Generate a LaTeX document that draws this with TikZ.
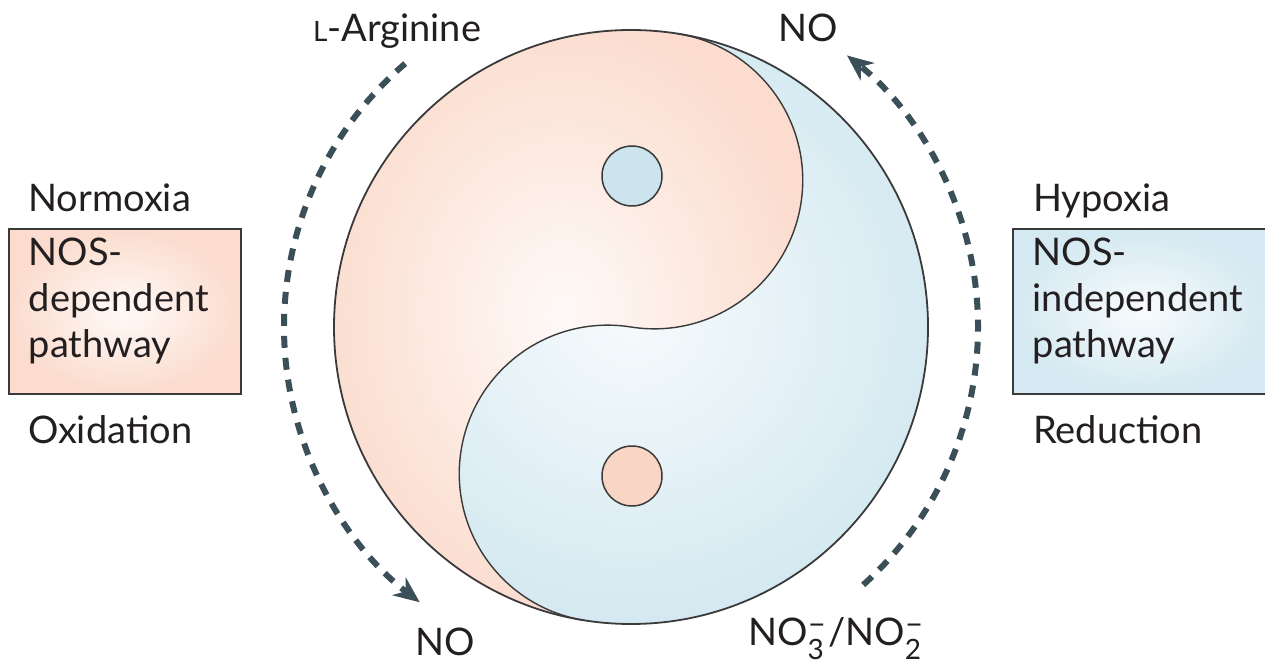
\documentclass[tikz,border=0pt]{standalone}
\usepackage{fontspec}
\setmainfont{Lato}
\usepackage{tikz}
\usetikzlibrary{arrows.meta}
\definecolor{peachx}{HTML}{FBDCCE}
\definecolor{bluex}{HTML}{D4E9F1}
\definecolor{peachdot}{HTML}{F8D5C5}
\definecolor{bluedot}{HTML}{CBE4ED}
\definecolor{slatex}{HTML}{3B4F58}
\definecolor{inkx}{HTML}{231F20}
\definecolor{rimx}{HTML}{3A3A3A}
\newcommand{\chg}[1]{\rlap{\raisebox{-14pt}{\fontsize{28}{28}\selectfont#1}}\raisebox{11pt}{\fontsize{32}{32}\selectfont–}\hspace{2pt}}
\tikzset{
  dasharr/.style={-{Stealth[length=26pt,width=22pt,inset=8pt]},line width=6pt,slatex,dash pattern=on 12pt off 10pt},
  lbl/.style={font=\fontsize{38}{47}\selectfont,text=inkx,inner sep=0pt},
  pathbox/.style={draw=rimx,line width=1.6pt,anchor=north west,minimum height=165pt,inner xsep=20pt,inner ysep=0pt,align=left,text width=192pt,text depth=120pt,font=\fontsize{38}{46}\selectfont,text=inkx,shade}
}

\begin{document}
\begin{tikzpicture}[x=1pt,y=1pt]
\useasboundingbox (0,0) rectangle (1265,667);
\coordinate (C) at (631,340);
% yin and yang
\begin{scope}[rotate around={-9:(C)}]
\shade[inner color=bluex!20,outer color=bluex] (C) circle (297);
\shade[inner color=peachx!15,outer color=peachx] (C) ++(0,297) arc[start angle=90,end angle=270,radius=297]
  arc[start angle=270,end angle=90,radius=148.5] arc[start angle=-90,end angle=90,radius=148.5] -- cycle;
\draw[rimx,line width=1.4pt] (C) ++(0,-297) arc[start angle=270,end angle=90,radius=148.5]
  arc[start angle=-90,end angle=90,radius=148.5];
\end{scope}
\draw[rimx,line width=1.8pt] (C) circle (297);
\draw[rimx,line width=1.5pt,fill=bluedot] (632,491) circle (30);
\draw[rimx,line width=1.5pt,fill=peachdot] (632,191) circle (30);
% arrows round the circle
\coordinate (ls) at ([shift={(130.6:347)}]C);
\coordinate (rs) at ([shift={(-48:347)}]C);
\draw[dasharr] (ls) arc[start angle=130.6,end angle=232.5,radius=347];
\draw[dasharr] (rs) arc[start angle=-48,end angle=51.5,radius=347];
% labels
\node[lbl,anchor=base west] (larg) at (313,625) {{\fontsize{28}{28}\selectfont L}-Arginine};
\node[lbl,anchor=base] (notop) at (808,625) {NO};
\node[lbl,anchor=base] (nobot) at (445,12) {NO};
\node[lbl,anchor=base west] (nitr) at (748,22) {NO\chg{3}/NO\chg{2}};
\node[lbl,anchor=base west] (normo) at (28,455) {Normoxia};
\node[lbl,anchor=base west] (oxid) at (28,224) {Oxidation};
\node[lbl,anchor=base west] (hypo) at (1033,455) {Hypoxia};
\node[lbl,anchor=base west] (reduc) at (1033,224) {Reduction};
% pathway boxes
\node[pathbox,inner color=peachx!15,outer color=peachx,minimum width=232pt] (nosdep) at (8,439) {NOS-\\dependent\\pathway};
\node[pathbox,inner color=bluex!15,outer color=bluex,minimum width=258pt,text width=218pt] (nosind) at (1012,439) {NOS-\\independent\\pathway};
\end{tikzpicture}
\end{document}
